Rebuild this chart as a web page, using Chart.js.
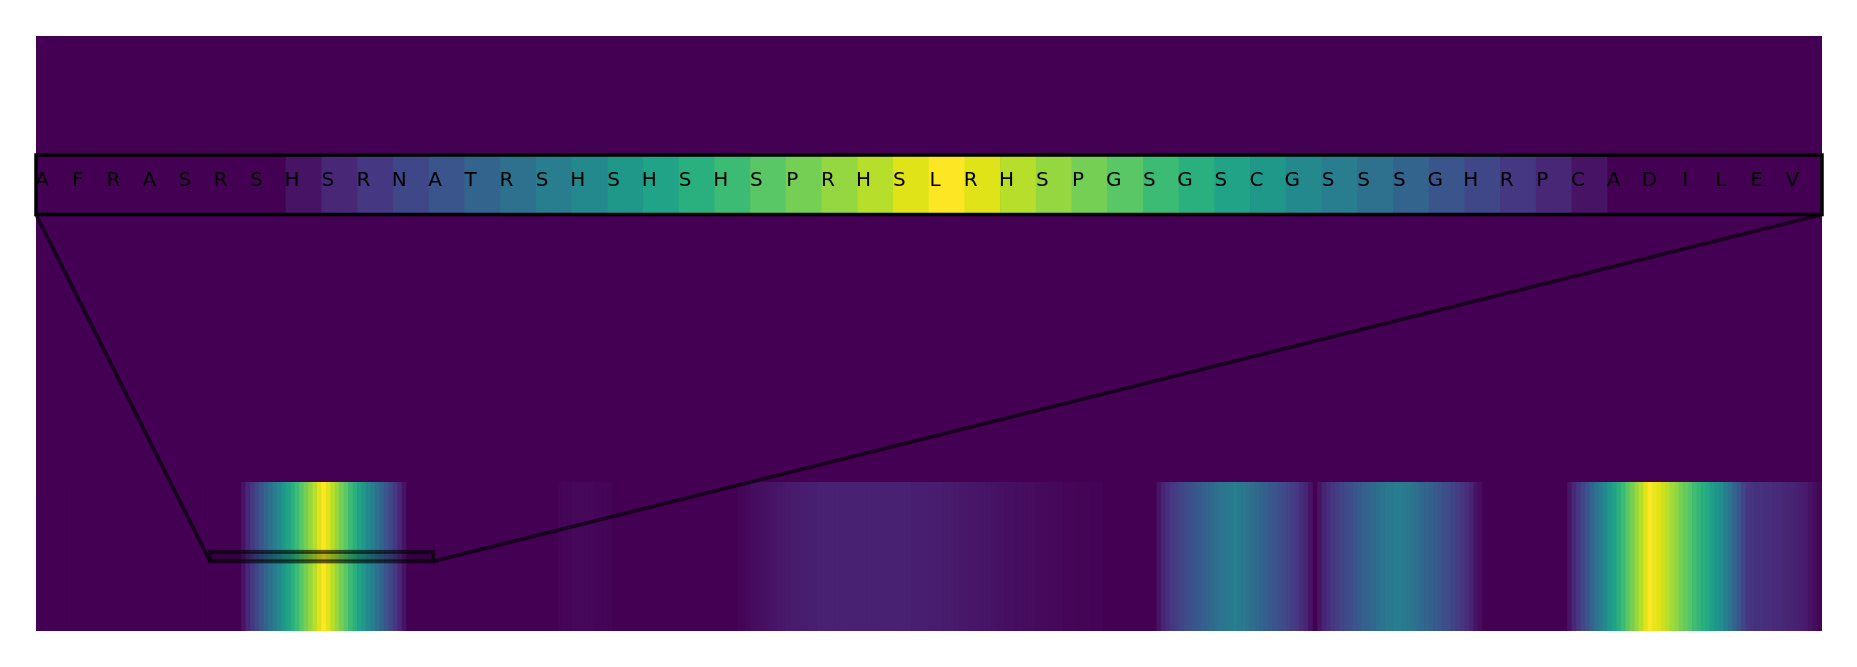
<!DOCTYPE html>
<html>
<head>
<meta charset="utf-8">
<script src="https://cdn.jsdelivr.net/npm/chart.js@4"></script>
<style>
html,body{margin:0;padding:0;background:#ffffff;overflow:hidden}
canvas{display:block}
</style>
</head>
<body>
<canvas id="c" width="1857" height="667"></canvas>
<script>
// ---------------- DATA ----------------
// Residues shown in the zoomed window (top strip)
const windowLetters = ['A','F','R','A','S','R','S','H','S','R','N','A','T','R','S','H','S','H','S','H','S','P','R','H','S','L','R','H','S','P','G','S','G','S','C','G','S','S','S','G','H','R','P','C','A','D','I','L','E','V'];
// Index of the first residue of the window in the full sequence
const windowStart = 39;
// Per-residue score for the full sequence (400 residues)
const scores = [
  /*   0 */ 0,0,0,0,0,0,0,0,0,0,0,0,0,0,0,0,0,0,0,0,
  /*  20 */ 0,0,0,0,0,0,0,0,0,0,0,0,0,0,0,0,0,0,0,0,
  /*  40 */ 0,0,0,0,0,0,0.05,0.11,0.16,0.21,0.26,0.32,0.37,0.42,0.47,0.53,0.58,0.63,0.68,0.74,
  /*  60 */ 0.79,0.84,0.89,0.95,1.00,0.95,0.89,0.84,0.79,0.74,0.68,0.63,0.58,0.53,0.47,0.42,0.37,0.32,0.26,0.21,
  /*  80 */ 0.16,0.11,0.05,0,0,0,0,0,0,0,0,0,0,0,0,0,0,0,0,0,
  /* 100 */ 0,0,0,0,0,0,0,0,0,0,0,0,0,0,0,0,0,0.01,0.015,0.015,
  /* 120 */ 0.02,0.02,0.02,0.02,0.02,0.015,0.015,0.015,0.01,0,0,0,0,0,0,0,0,0,0,0,
  /* 140 */ 0,0,0,0,0,0,0,0,0,0,0,0,0,0,0,0,0,0.01,0.015,0.02,
  /* 160 */ 0.03,0.035,0.04,0.045,0.05,0.055,0.06,0.065,0.07,0.075,0.075,0.08,0.08,0.085,0.085,0.09,0.09,0.09,0.09,0.09,
  /* 180 */ 0.09,0.09,0.09,0.09,0.09,0.09,0.09,0.09,0.09,0.09,0.09,0.09,0.09,0.09,0.09,0.09,0.085,0.085,0.085,0.085,
  /* 200 */ 0.08,0.08,0.08,0.075,0.075,0.07,0.07,0.065,0.065,0.06,0.06,0.055,0.055,0.05,0.05,0.045,0.045,0.04,0.04,0.035,
  /* 220 */ 0.035,0.03,0.03,0.03,0.025,0.025,0.025,0.02,0.02,0.02,0.015,0.015,0.015,0.01,0.01,0.01,0.005,0.005,0.005,0,
  /* 240 */ 0,0,0,0,0,0,0,0,0,0,0,0.05,0.1,0.13,0.16,0.18,0.2,0.22,0.24,0.26,
  /* 260 */ 0.28,0.3,0.32,0.34,0.36,0.38,0.4,0.41,0.42,0.41,0.4,0.38,0.36,0.34,0.32,0.3,0.28,0.26,0.24,0.22,
  /* 280 */ 0.2,0.18,0.16,0.13,0.1,0.05,0,0.05,0.1,0.13,0.16,0.18,0.2,0.22,0.24,0.26,0.28,0.3,0.32,0.34,
  /* 300 */ 0.36,0.38,0.4,0.41,0.42,0.42,0.41,0.4,0.38,0.36,0.34,0.32,0.3,0.28,0.26,0.24,0.22,0.2,0.18,0.16,
  /* 320 */ 0.13,0.1,0.05,0.03,0,0,0,0,0,0,0,0,0,0,0,0,0,0,0,0,
  /* 340 */ 0,0,0,0.05,0.11,0.16,0.21,0.26,0.32,0.37,0.42,0.47,0.53,0.58,0.63,0.68,0.74,0.79,0.84,0.89,
  /* 360 */ 0.95,1.00,0.97,0.95,0.92,0.89,0.86,0.83,0.79,0.76,0.73,0.69,0.66,0.63,0.6,0.56,0.52,0.48,0.43,0.38,
  /* 380 */ 0.32,0.26,0.2,0.16,0.15,0.14,0.14,0.13,0.13,0.12,0.12,0.11,0.1,0.1,0.09,0.08,0.07,0.05,0.03,0.01
];

// ---------------- COLOUR MAP (viridis) ----------------
const VIRIDIS = ['#440154','#471365','#482475','#463480','#414487','#3b528b','#355f8d','#2f6c8e','#2a788e','#25848e','#21918c','#1e9c89','#22a884','#2fb47c','#44bf70','#5ec962','#7ad151','#9bd93c','#bddf26','#dfe318','#fde725'];
const VIR_RGB = VIRIDIS.map(h => [parseInt(h.slice(1,3),16), parseInt(h.slice(3,5),16), parseInt(h.slice(5,7),16)]);
function viridis(v){
  v = Math.max(0, Math.min(1, v));
  const p = v * (VIR_RGB.length - 1);
  const i = Math.min(VIR_RGB.length - 2, Math.floor(p));
  const t = p - i;
  const a = VIR_RGB[i], b = VIR_RGB[i+1];
  const c = a.map((ai, k) => Math.round(ai + (b[k]-ai)*t));
  return `rgb(${c[0]},${c[1]},${c[2]})`;
}

// ---------------- LAYOUT (y in axis fractions) ----------------
const BAND = [0, 0.25];          // full-sequence strip
const STRIP = [0.7, 0.8];        // zoomed strip
const INSET = [0.117, 0.133];    // indicator rectangle on full strip
const LETTER_BASE = 0.748;

const fullDataset = {
  type: 'bar',
  xAxisID: 'x', yAxisID: 'y',
  data: scores.map((v, i) => ({x: i + 0.5, y: BAND})),
  backgroundColor: scores.map(v => viridis(v)),
  borderWidth: 0, barPercentage: 1, categoryPercentage: 1, grouped: false
};
const windowScores = windowLetters.map((l, i) => scores[windowStart + i]);
const zoomDataset = {
  type: 'bar',
  xAxisID: 'x2', yAxisID: 'y',
  data: windowLetters.map((l, i) => ({x: i + 0.5, y: STRIP})),
  backgroundColor: windowScores.map(v => viridis(v)),
  borderWidth: 0, barPercentage: 1, categoryPercentage: 1, grouped: false
};

const plotBg = {
  id: 'plotBg',
  beforeDatasetsDraw(chart){
    const {ctx, chartArea: a} = chart;
    ctx.save();
    ctx.fillStyle = viridis(0);
    ctx.fillRect(a.left, a.top, a.right - a.left, a.bottom - a.top);
    ctx.restore();
  }
};

const overlay = {
  id: 'overlay',
  afterDatasetsDraw(chart){
    const {ctx} = chart;
    const x = chart.scales.x, x2 = chart.scales.x2, y = chart.scales.y;
    const n = windowLetters.length;
    // indicator rectangle
    const rx0 = x.getPixelForValue(windowStart), rx1 = x.getPixelForValue(windowStart + n);
    const ryT = y.getPixelForValue(INSET[1]), ryB = y.getPixelForValue(INSET[0]);
    ctx.save();
    ctx.fillStyle = 'rgba(0,0,0,0.25)';
    ctx.fillRect(rx0, ryT, rx1 - rx0, ryB - ryT);
    ctx.strokeStyle = 'rgba(0,0,0,0.6)';
    ctx.lineWidth = 4;
    ctx.strokeRect(rx0, ryT, rx1 - rx0, ryB - ryT);
    // connectors
    const bx0 = x2.getPixelForValue(0), bx1 = x2.getPixelForValue(n);
    const byT = y.getPixelForValue(STRIP[1]), byB = y.getPixelForValue(STRIP[0]);
    ctx.strokeStyle = 'rgba(0,0,0,0.62)';
    ctx.lineWidth = 3.8;
    ctx.beginPath();
    ctx.moveTo(bx0, byB); ctx.lineTo(rx0, ryB);
    ctx.moveTo(bx1, byB); ctx.lineTo(rx1, ryB);
    ctx.stroke();
    // zoom box
    ctx.strokeStyle = '#000000';
    ctx.lineWidth = 3.5;
    ctx.strokeRect(bx0, byT, bx1 - bx0, byB - byT);
    // letters
    ctx.fillStyle = '#000000';
    ctx.font = '20px "DejaVu Sans"';
    ctx.textAlign = 'center';
    ctx.textBaseline = 'alphabetic';
    windowLetters.forEach((l, i) => {
      ctx.fillText(l, x2.getPixelForValue(i + 0.17), y.getPixelForValue(LETTER_BASE));
    });
    ctx.restore();
  }
};

new Chart(document.getElementById('c'), {
  type: 'bar',
  data: { datasets: [fullDataset, zoomDataset] },
  options: {
    responsive: false,
    animation: false,
    devicePixelRatio: 1,
    layout: { padding: { left: 36, top: 36, right: 35, bottom: 36 } },
    scales: {
      x:  { type: 'linear', min: 0, max: scores.length, offset: false, display: false },
      x2: { type: 'linear', min: 0, max: windowLetters.length, offset: false, display: false },
      y:  { type: 'linear', min: 0, max: 1, display: false }
    },
    plugins: { legend: { display: false }, tooltip: { enabled: false } }
  },
  plugins: [plotBg, overlay]
});
</script>
</body>
</html>
